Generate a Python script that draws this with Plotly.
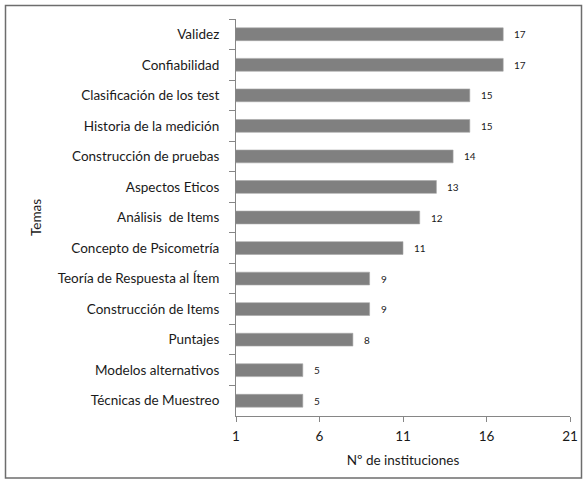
import plotly.graph_objects as go

temas = ["Validez", "Confiabilidad", "Clasificación de los test", "Historia de la medición",
         "Construcción de pruebas", "Aspectos Eticos", "Análisis  de Items",
         "Concepto de Psicometría", "Teoría de Respuesta al Ítem", "Construcción de Items",
         "Puntajes", "Modelos alternativos", "Técnicas de Muestreo"]
valores = [17, 17, 15, 15, 14, 13, 12, 11, 9, 9, 8, 5, 5]
x_ticks = [1, 6, 11, 16, 21]

FONT = "Lato"
TXT = "#1a1a1a"
W, H = 587, 484
L, R, T, B = 236, 17, 19, 68
pw, ph = W - L - R, H - T - B

fig = go.Figure(go.Bar(
    y=temas, x=valores, orientation="h",
    marker=dict(color="#808080", line=dict(color="#a6a6a6", width=0.6)),
    width=0.42,
    hoverinfo="x+y",
))

for t, v in zip(temas, valores):
    fig.add_annotation(x=v, y=t, text=str(v), showarrow=False, xanchor="left",
                       xshift=9, font=dict(family=FONT, size=10, color=TXT))

def px(xp):
    return (xp - L) / pw

def py(yp):
    return (H - B - yp) / ph

fig.update_layout(
    width=W, height=H,
    margin=dict(l=L, r=R, t=T, b=B, autoexpand=False),
    paper_bgcolor="white", plot_bgcolor="white",
    showlegend=False,
    font=dict(family=FONT, size=13.5, color=TXT),
    xaxis=dict(range=[1, 21], tickvals=x_ticks, ticktext=[str(t) for t in x_ticks],
               showgrid=False, zeroline=False, showline=True, linecolor="#868686", linewidth=1,
               ticks="outside", ticklen=5, tickcolor="#868686", ticklabelstandoff=3,
               tickfont=dict(family=FONT, size=13.5, color=TXT),
               title=dict(text="Nº de instituciones", font=dict(family=FONT, size=13.5, color=TXT),
                          standoff=12)),
    yaxis=dict(autorange="reversed", type="category", showgrid=False, zeroline=False,
               showline=True, linecolor="#868686", linewidth=1,
               ticks="outside", ticklen=6, tickcolor="#868686", tickson="boundaries",
               ticklabelstandoff=13,
               tickfont=dict(family=FONT, size=13.5, color=TXT),
               title=dict(text="Temas", font=dict(family=FONT, size=13.5, color=TXT), standoff=12)),
    shapes=[dict(type="rect", xref="paper", yref="paper",
                 x0=px(5.5), x1=px(581.5), y0=py(478), y1=py(5.5),
                 line=dict(color="#6d6d6d", width=1.5))],
)

fig.write_html("out.html", config={"displayModeBar": False},
               post_script="document.body.style.margin='0';")
